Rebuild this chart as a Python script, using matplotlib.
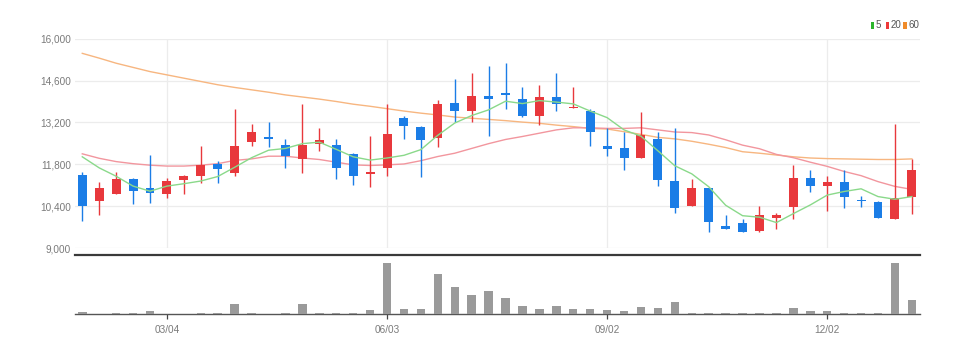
import numpy as np
import pandas as pd
import matplotlib
matplotlib.use('Agg')
import matplotlib.pyplot as plt
from matplotlib.patches import Rectangle

plt.rcParams['font.family'] = ['Liberation Sans Narrow', 'Liberation Sans', 'DejaVu Sans']

# weekly candles, first week 2019-01-28
dates = pd.date_range('2019-01-28', periods=50, freq='7D')
tick_labels = ['03/04', '06/03', '09/02', '12/02']
price_ticks = [9000, 10400, 11800, 13200, 14600, 16000]

opens = [11430, 10570, 10820, 11310, 11010, 10810, 11290, 11410, 11810, 11520,
         12530, 12710, 12450, 11980, 12490, 12450, 12130, 11470, 11680, 13350,
         13050, 12670, 13860, 13580, 14090, 14180, 13990, 13420, 14050, 13670,
         13570, 12400, 12360, 12020, 12650, 11250, 10400, 11010, 9740, 9820,
         9570, 10010, 10370, 11350, 11070, 11200, 10610, 10550, 9980, 10710]
highs = [11530, 11200, 11540, 11330, 12120, 11350, 11450, 12400, 11900, 13650,
         13160, 13210, 12660, 13810, 13000, 12660, 12180, 12760, 13810, 13400,
         13090, 13950, 14660, 14860, 15100, 15200, 14390, 14450, 14860, 14380,
         13650, 13010, 12890, 13550, 12890, 13000, 11310, 11010, 10100, 9960,
         10400, 10180, 11790, 11600, 11400, 11600, 10740, 10560, 13160, 11990]
lows = [9900, 10120, 10800, 10460, 10510, 10660, 10820, 11180, 11160, 11400,
        12420, 12380, 11680, 11510, 12260, 11310, 11100, 11030, 11420, 12660,
        11380, 12380, 13210, 13210, 12735, 13660, 13380, 13120, 13570, 13670,
        12400, 12070, 11620, 12020, 11070, 10180, 10400, 9550, 9650, 9530,
        9540, 9650, 9980, 10870, 10240, 10340, 10380, 10000, 9960, 10130]
closes = [10420, 11010, 11310, 10920, 10850, 11240, 11420, 11780, 11650, 12400,
          12870, 12660, 12070, 12460, 12620, 11680, 11400, 11550, 12800, 13070,
          12620, 13800, 13590, 14070, 14000, 14110, 13400, 14050, 13820, 13730,
          12880, 12320, 12020, 12770, 11280, 10340, 10990, 9880, 9650, 9540,
          10100, 10100, 11350, 11090, 11200, 10710, 10570, 10010, 10680, 11620]

ma5 = [12050, 11680, 11400, 11070, 10900, 11070, 11150, 11240, 11390, 11700,
       12020, 12270, 12330, 12490, 12540, 12300, 12050, 11940, 12010, 12100,
       12290, 12770, 13180, 13430, 13620, 13910, 13830, 13930, 13880, 13820,
       13580, 13360, 12950, 12740, 12250, 11750, 11480, 11050, 10430, 10080,
       10030, 9850, 10150, 10440, 10770, 10890, 10980, 10720, 10630, 10720]
ma20 = [12150, 12000, 11890, 11820, 11770, 11740, 11740, 11770, 11820, 11930,
        11980, 12070, 12070, 12010, 11960, 11870, 11780, 11760, 11780, 11810,
        11920, 12060, 12170, 12330, 12490, 12630, 12730, 12840, 12950, 13020,
        13020, 13000, 13000, 13020, 12950, 12880, 12860, 12780, 12620, 12440,
        12320, 12130, 12020, 11870, 11730, 11560, 11420, 11220, 11060, 10960]
ma60 = [15510, 15350, 15180, 15040, 14900, 14790, 14680, 14570, 14460, 14370,
        14290, 14210, 14120, 14050, 13980, 13900, 13810, 13740, 13660, 13580,
        13510, 13450, 13380, 13340, 13300, 13260, 13210, 13170, 13110, 13060,
        13000, 12980, 12890, 12800, 12700, 12650, 12570, 12470, 12360, 12220,
        12170, 12110, 12050, 12010, 11990, 11980, 11970, 11960, 11960, 11980]

# volume in thousand shares
volumes = [60, 20, 40, 50, 110, 10, 10, 50, 40, 310,
           50, 10, 50, 310, 40, 50, 40, 130, 1550, 160,
           160, 1210, 820, 580, 690, 480, 260, 160, 260, 160,
           160, 140, 100, 230, 200, 360, 40, 50, 50, 50,
           50, 50, 190, 100, 100, 50, 40, 50, 1550, 430]

RED = '#e8383c'
BLUE = '#1b7de6'
GRID = '#ececec'
TXT = '#7a7a7a'

W, H = 969, 354
fig = plt.figure(figsize=(W / 100, H / 100), dpi=100)

def fx(px):
    return px / W

def fy(py):
    return 1 - py / H

left, right = 75, 920
ax = fig.add_axes([fx(left), fy(248), fx(right - left), fy(38.7) - fy(248)])
axv = fig.add_axes([fx(left), fy(314.3), fx(right - left), fy(254.7) - fy(314.3)])

x = np.arange(len(dates))
o = np.array(opens)
c = np.array(closes)
up = c >= o
colors = np.where(up, RED, BLUE)

# candles
ax.vlines(x, lows, highs, colors=colors, linewidth=1.0, zorder=3)
body_bottom = np.minimum(o, c)
body_h = np.maximum(np.abs(c - o), 40)
ax.bar(x, body_h, bottom=body_bottom, width=0.53, color=colors, linewidth=0, zorder=4)

# moving averages
ax.plot(x, ma60, color='#f7b680', linewidth=1.0, zorder=2)
ax.plot(x, ma20, color='#f2969e', linewidth=1.0, zorder=2)
ax.plot(x, ma5, color='#8ad98a', linewidth=1.0, zorder=5)

labels_all = list(dates.strftime('%m/%d'))
tick_pos = [labels_all.index(t) for t in tick_labels]

ax.set_xlim(-0.43, 49.48)
ax.set_ylim(9000, 16000)
ax.set_yticks(price_ticks)
ax.set_yticklabels(['{:,}'.format(v) for v in price_ticks])
ax.set_xticks(tick_pos)
ax.tick_params(axis='x', length=0, labelbottom=False)
ax.tick_params(axis='y', length=0, labelsize=7.2, colors=TXT, pad=3)
ax.grid(True, color=GRID, linewidth=0.9)
ax.set_axisbelow(True)
for s in ax.spines.values():
    s.set_visible(False)

# volume panel
axv.bar(x, volumes, width=0.5, color='#9a9a9a', linewidth=0, zorder=3)
axv.set_xlim(-0.43, 49.48)
axv.set_ylim(0, max(volumes) * 1.155)
axv.set_yticks([])
axv.set_xticks(tick_pos)
axv.set_xticklabels(tick_labels)
axv.tick_params(axis='x', length=3.5, width=0.9, color='#444444', labelsize=7.2,
                labelcolor=TXT, pad=4, direction='out')
for s in ['left', 'right']:
    axv.spines[s].set_visible(False)
axv.spines['top'].set_color('#3a3a3a')
axv.spines['top'].set_linewidth(1.6)
axv.spines['bottom'].set_color('#555555')
axv.spines['bottom'].set_linewidth(1.0)

# legend top right
legend_items = [('5', '#2cb52c', 870.7), ('20', '#ee3838', 885.7), ('60', '#f08c2a', 903.3)]
for lab, col, px in legend_items:
    fig.add_artist(Rectangle((fx(px), fy(28.7)), fx(3.4), fy(22) - fy(28.7),
                             transform=fig.transFigure, color=col, linewidth=0))
    fig.text(fx(px + 5), fy(25.5), lab, fontsize=7, color='#555555', va='center', ha='left')

fig.savefig('out.png', dpi=100)
